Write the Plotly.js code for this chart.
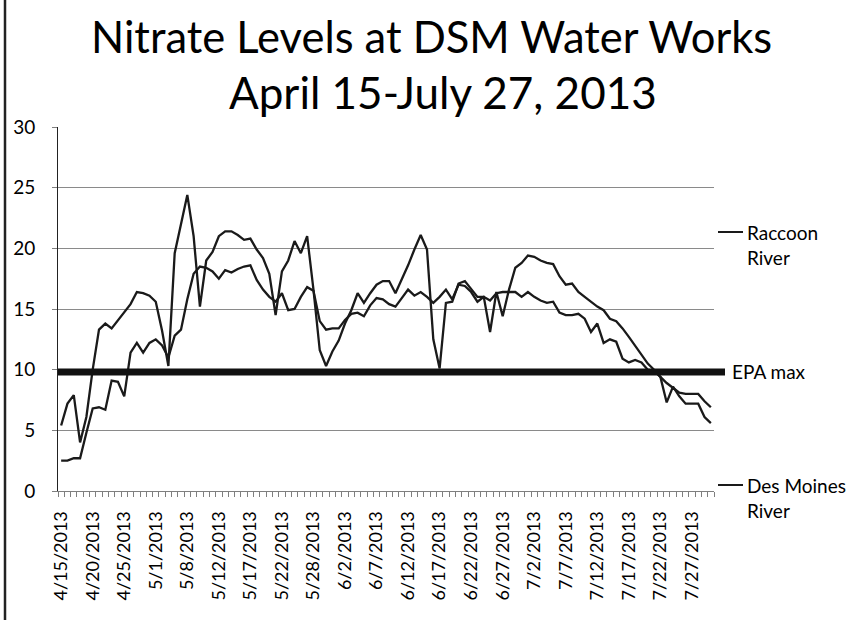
<!DOCTYPE html>
<html>
<head>
<meta charset="utf-8">
<script src="https://cdn.plot.ly/plotly-3.0.1.min.js"></script>
<style>
html,body{margin:0;padding:0;background:#fff;}
#chart{width:856px;height:620px;}
</style>
</head>
<body>
<div id="chart"></div>
<script>
// Sample dates (text category axis, one slot per sample)
const dates = [
  "4/15/2013","4/16/2013","4/17/2013","4/18/2013","4/19/2013","4/20/2013","4/21/2013","4/22/2013","4/23/2013","4/24/2013",
  "4/25/2013","4/26/2013","4/27/2013","4/28/2013","4/29/2013","5/1/2013","5/2/2013","5/3/2013","5/6/2013","5/7/2013",
  "5/8/2013","5/9/2013","5/10/2013","5/10/2013","5/11/2013","5/12/2013","5/13/2013","5/14/2013","5/15/2013","5/16/2013",
  "5/17/2013","5/18/2013","5/19/2013","5/20/2013","5/21/2013","5/22/2013","5/23/2013","5/24/2013","5/26/2013","5/27/2013",
  "5/28/2013","5/29/2013","5/30/2013","5/31/2013","6/1/2013","6/2/2013","6/3/2013","6/4/2013","6/5/2013","6/6/2013",
  "6/7/2013","6/8/2013","6/9/2013","6/10/2013","6/11/2013","6/12/2013","6/13/2013","6/14/2013","6/15/2013","6/16/2013",
  "6/17/2013","6/18/2013","6/19/2013","6/20/2013","6/21/2013","6/22/2013","6/23/2013","6/24/2013","6/25/2013","6/26/2013",
  "6/27/2013","6/28/2013","6/29/2013","6/30/2013","7/1/2013","7/2/2013","7/3/2013","7/4/2013","7/5/2013","7/6/2013",
  "7/7/2013","7/8/2013","7/9/2013","7/10/2013","7/11/2013","7/12/2013","7/13/2013","7/14/2013","7/15/2013","7/16/2013",
  "7/17/2013","7/18/2013","7/19/2013","7/20/2013","7/21/2013","7/22/2013","7/23/2013","7/24/2013","7/25/2013","7/26/2013",
  "7/27/2013","7/28/2013","7/29/2013","7/30/2013"
];

const raccoonRiver = [
  5.4, 7.2, 7.9, 4.0, 6.1, 10.0, 13.3, 13.8, 13.4, 14.1,
  14.7, 15.4, 16.4, 16.3, 16.1, 15.6, 13.2, 10.3, 19.6, 22.0,
  24.4, 21.0, 15.2, 19.0, 19.7, 21.0, 21.4, 21.4, 21.1, 20.7,
  20.8, 19.9, 19.2, 17.9, 14.5, 18.1, 19.0, 20.6, 19.6, 21.0,
  16.6, 11.6, 10.3, 11.5, 12.4, 13.8, 14.9, 16.3, 15.5, 16.3,
  17.0, 17.3, 17.3, 16.3, 17.4, 18.6, 19.9, 21.1, 19.9, 12.5,
  10.1, 15.5, 15.6, 17.1, 17.3, 16.6, 16.0, 16.0, 13.1, 16.4,
  14.4, 16.6, 18.4, 18.8, 19.4, 19.3, 19.0, 18.8, 18.7, 17.7,
  17.0, 17.1, 16.4, 16.0, 15.6, 15.2, 14.9, 14.2, 14.0, 13.4,
  12.7, 12.0, 11.3, 10.5, 10.0, 9.4, 8.9, 8.5, 8.1, 8.0,
  8.0, 8.0, 7.4, 6.9
];

const desMoinesRiver = [
  2.5, 2.5, 2.7, 2.7, 4.8, 6.8, 6.9, 6.7, 9.1, 9.0,
  7.8, 11.4, 12.2, 11.4, 12.2, 12.5, 12.0, 11.0, 12.8, 13.3,
  15.8, 17.9, 18.5, 18.4, 18.1, 17.5, 18.2, 18.0, 18.3, 18.5,
  18.6, 17.4, 16.6, 16.0, 15.6, 16.3, 14.9, 15.0, 16.0, 16.8,
  16.5, 14.0, 13.3, 13.4, 13.4, 14.1, 14.6, 14.7, 14.4, 15.3,
  15.9, 15.8, 15.4, 15.2, 15.9, 16.6, 16.1, 16.4, 16.0, 15.5,
  16.0, 16.6, 15.8, 17.0, 16.9, 16.4, 15.6, 16.0, 15.7, 16.3,
  16.4, 16.4, 16.4, 16.0, 16.4, 16.0, 15.7, 15.5, 15.6, 14.7,
  14.5, 14.5, 14.6, 14.2, 13.1, 13.8, 12.2, 12.5, 12.3, 10.9,
  10.6, 10.8, 10.6, 10.0, 9.9, 9.4, 7.3, 8.6, 7.8, 7.2,
  7.2, 7.2, 6.1, 5.6
];

const epaMax = 9.8;
const yTicks = [0, 5, 10, 15, 20, 25, 30];
const labelEvery = 5;

const xIdx = dates.map((d, i) => i);
const tickIdx = xIdx.filter(i => i % labelEvery === 0);
const tickText = tickIdx.map(i => dates[i]);

const FONT = "Lato, 'Open Sans', sans-serif";
const lineStyle = {color: '#1a1a1a', width: 2.3};

const traces = [
  {x: xIdx, y: raccoonRiver, type: 'scatter', mode: 'lines', name: 'Raccoon River', line: lineStyle, hoverinfo: 'y'},
  {x: xIdx, y: desMoinesRiver, type: 'scatter', mode: 'lines', name: 'Des Moines River', line: lineStyle, hoverinfo: 'y'}
];

const W = 856, H = 620, L = 58, R = 142, T = 127, B = 129;
const pw = W - L - R, ph = H - T - B;
const px = v => (v - L) / pw;        // pixel x -> paper x
const py = v => (H - B - v) / ph;    // pixel y -> paper y

const layout = {
  width: W, height: H,
  margin: {l: L, r: R, t: T, b: B, pad: 0},
  paper_bgcolor: '#ffffff',
  plot_bgcolor: '#ffffff',
  showlegend: false,
  font: {family: FONT, color: '#000000', size: 18},
  xaxis: {
    type: 'linear',
    range: [-0.5, dates.length - 0.5],
    tickmode: 'array',
    tickvals: tickIdx,
    ticktext: tickText,
    tickangle: -90,
    ticks: '',
    ticklabelstandoff: 12,
    tickfont: {family: FONT, size: 18, color: '#000'},
    showgrid: false,
    zeroline: false,
    showline: true,
    linecolor: '#7f7f7f',
    linewidth: 1,
    minor: {tickmode: 'linear', tick0: -0.5, dtick: 1, ticks: 'outside', ticklen: 5, tickcolor: '#7f7f7f', tickwidth: 1, showgrid: false},
    fixedrange: true
  },
  yaxis: {
    range: [0, 30],
    tickmode: 'array',
    tickvals: yTicks,
    ticks: 'outside',
    ticklen: 5,
    tickcolor: '#7f7f7f',
    ticklabelstandoff: 13,
    tickfont: {family: FONT, size: 19, color: '#000'},
    showgrid: true,
    gridcolor: '#8a8a8a',
    gridwidth: 1,
    zeroline: false,
    showline: true,
    linecolor: '#222222',
    linewidth: 1,
    fixedrange: true
  },
  shapes: [
    // EPA maximum reference line (runs out to its legend label)
    {type: 'line', xref: 'paper', yref: 'y', x0: 0, x1: px(725), y0: epaMax, y1: epaMax,
     line: {color: '#111111', width: 7}},
    // legend keys
    {type: 'line', xref: 'paper', yref: 'paper', x0: px(718), x1: px(743), y0: py(232), y1: py(232),
     line: {color: '#1a1a1a', width: 2}},
    {type: 'line', xref: 'paper', yref: 'paper', x0: px(718), x1: px(743), y0: py(485), y1: py(485),
     line: {color: '#1a1a1a', width: 2}},
    // left frame edge
    {type: 'line', xref: 'paper', yref: 'paper', x0: px(5), x1: px(5), y0: py(0), y1: py(620),
     line: {color: '#222222', width: 2.5}}
  ],
  annotations: [
    {text: 'Nitrate Levels at DSM Water Works', xref: 'paper', yref: 'paper', x: px(431), y: py(36),
     xanchor: 'center', yanchor: 'middle', showarrow: false, font: {family: FONT, size: 43.5, color: '#000'}},
    {text: 'April 15-July 27, 2013', xref: 'paper', yref: 'paper', x: px(443), y: py(92),
     xanchor: 'center', yanchor: 'middle', showarrow: false, font: {family: FONT, size: 44, color: '#000'}},
    {text: 'Raccoon<br>River', xref: 'paper', yref: 'paper', x: px(745), y: py(245), align: 'left',
     xanchor: 'left', yanchor: 'middle', showarrow: false, font: {family: FONT, size: 19, color: '#000'}},
    {text: 'EPA max', xref: 'paper', yref: 'paper', x: px(730), y: py(371), align: 'left',
     xanchor: 'left', yanchor: 'middle', showarrow: false, font: {family: FONT, size: 19, color: '#000'}},
    {text: 'Des Moines<br>River', xref: 'paper', yref: 'paper', x: px(745), y: py(498), align: 'left',
     xanchor: 'left', yanchor: 'middle', showarrow: false, font: {family: FONT, size: 19, color: '#000'}}
  ]
};

Plotly.newPlot('chart', traces, layout, {displayModeBar: false, staticPlot: true});
</script>
</body>
</html>
